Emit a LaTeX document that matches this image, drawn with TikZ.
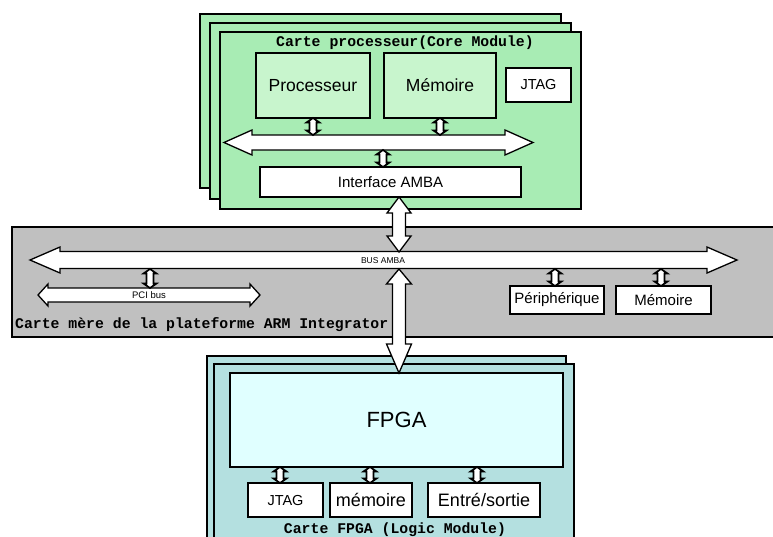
\documentclass[tikz,border=0pt]{standalone}
\usepackage{fontspec}
\setmainfont{Liberation Sans}
\setmonofont{Liberation Mono}
\usetikzlibrary{calc}

\definecolor{cardgreen}{RGB}{168,236,180}
\definecolor{boxgreen}{RGB}{200,245,205}
\definecolor{panelgray}{RGB}{192,192,192}
\definecolor{cardteal}{RGB}{180,224,224}
\definecolor{boxcyan}{RGB}{224,255,255}

% vertical double block arrow: style, top point, bottom point, head half-width,
% shaft half-width, top head length, bottom head length
\newcommand\vblock[7]{%
  \path[#1] let \p1=#2, \p2=#3 in
    (\x1,\y1) -- (\x1+#4pt,\y1-#6pt) -- (\x1+#5pt,\y1-#6pt) -- (\x1+#5pt,\y2+#7pt)
    -- (\x1+#4pt,\y2+#7pt) -- (\x1,\y2) -- (\x1-#4pt,\y2+#7pt) -- (\x1-#5pt,\y2+#7pt)
    -- (\x1-#5pt,\y1-#6pt) -- (\x1-#4pt,\y1-#6pt) -- cycle;}
% horizontal double block arrow: left tip, right tip, head half-width,
% shaft half-width, head length
\newcommand\hblock[5]{%
  \path[blockarrow] let \p1=#1, \p2=#2 in
    (\x1,\y1) -- (\x1+#5pt,\y1+#3pt) -- (\x1+#5pt,\y1+#4pt) -- (\x2-#5pt,\y1+#4pt)
    -- (\x2-#5pt,\y1+#3pt) -- (\x2,\y1) -- (\x2-#5pt,\y1-#3pt) -- (\x2-#5pt,\y1-#4pt)
    -- (\x1+#5pt,\y1-#4pt) -- (\x1+#5pt,\y1-#3pt) -- cycle;}
% short link arrow between a box and a bus
\newcommand\link[2]{\vblock{linkarrow}{#1}{#2}{6.5}{3.5}{4.5}{4.5}}

\begin{document}
\begin{tikzpicture}[x=1pt,y=-1pt,
  frame/.style={draw=black,line width=1.3pt},
  box/.style={frame,fill=white,outer sep=0pt,inner sep=0pt},
  blockarrow/.style={draw=black,fill=white,line width=1.3pt,line join=miter},
  linkarrow/.style={blockarrow,line width=1.7pt},
  cardtitle/.style={font=\ttfamily\bfseries\fontsize{14.8}{16}\selectfont,inner sep=0pt}]
\useasboundingbox (0,0) rectangle (773,536);
\clip (0,0) rectangle (773,536);

% ---- processor card stack ----
\draw[frame,fill=cardgreen] (200,14) rectangle (561,188);
\draw[frame,fill=cardgreen] (210,23) rectangle (571,199);
\draw[frame,fill=cardgreen] (220,32) rectangle (581,209);
\node[cardtitle] (coretitle) at (405,43) {Carte processeur(Core Module)};

\node[box,fill=boxgreen,minimum width=114,minimum height=65,
      font=\fontsize{17.5}{20}\selectfont] (proc) at (313,85.5) {Processeur};
\node[box,fill=boxgreen,minimum width=112,minimum height=65,
      font=\fontsize{17.5}{20}\selectfont] (mem) at (440,85.5) {Mémoire};
\node[box,minimum width=65,minimum height=34,
      font=\fontsize{14.5}{17}\selectfont] (jtag) at (538.5,85) {JTAG};
\node[box,minimum width=261,minimum height=30,
      font=\fontsize{15}{17}\selectfont] (iface) at (390.5,182) {Interface AMBA};

\coordinate (inbusL) at (224,142.5);
\coordinate (inbusR) at (533,142.5);
\coordinate (inbusT) at (0,135);
\coordinate (inbusB) at (0,150);
\hblock{(inbusL)}{(inbusR)}{12.5}{7.5}{28}
\link{(proc.south)}{(proc.south |- inbusT)}
\link{(mem.south)}{(mem.south |- inbusT)}
\coordinate (ifaceport) at (383,0);
\link{(ifaceport |- inbusB)}{(ifaceport |- iface.north)}

% ---- motherboard panel ----
\draw[frame,fill=panelgray] (12,227) -- (780,227) -- (780,337) -- (12,337) -- cycle;
\node[cardtitle,anchor=west] (mbtitle) at (15,325)
  {Carte mère de la plateforme ARM Integrator};

\coordinate (busL) at (30,260);
\coordinate (busR) at (737,260);
\coordinate (busT) at (0,252);
\coordinate (busB) at (0,269);
\hblock{(busL)}{(busR)}{13}{8.5}{30}
\node[font=\fontsize{8.5}{10}\selectfont,inner sep=0pt] (buslabel) at (383,260.5) {BUS AMBA};

\coordinate (pciL) at (38,295);
\coordinate (pciR) at (260,295);
\hblock{(pciL)}{(pciR)}{11}{7}{10}
\node[font=\fontsize{9.5}{11}\selectfont,inner sep=0pt] (pcilabel) at (149,295.5) {PCI bus};
\coordinate (pciport) at (150,288);
\link{(pciport |- busB)}{(pciport)}

\node[box,minimum width=94,minimum height=28,
      font=\fontsize{15}{17}\selectfont] (periph) at (557,300) {Périphérique};
\node[box,minimum width=95,minimum height=28,
      font=\fontsize{15}{17}\selectfont] (mbmem) at (663.5,300) {Mémoire};
\coordinate (periphport) at (555,0);
\coordinate (mbmemport) at (661,0);
\link{(periphport |- busB)}{(periphport |- periph.north)}
\link{(mbmemport |- busB)}{(mbmemport |- mbmem.north)}

% ---- FPGA card stack ----
\draw[frame,fill=cardteal] (207,356) rectangle (566,550);
\draw[frame,fill=cardteal] (214,364) rectangle (574,550);
\node[box,fill=boxcyan,minimum width=333,minimum height=94,
      font=\fontsize{22}{25}\selectfont] (fpga) at (396.5,420) {FPGA};
\node[box,minimum width=75,minimum height=34,
      font=\fontsize{14.5}{17}\selectfont] (fjtag) at (285.5,500) {JTAG};
\node[box,minimum width=82,minimum height=34,
      font=\fontsize{18}{20}\selectfont] (fmem) at (371,500) {mémoire};
\node[box,minimum width=112,minimum height=34,
      font=\fontsize{18}{20}\selectfont] (fio) at (484,500) {Entré/sortie};
\node[cardtitle] (fpgatitle) at (395,529.5) {Carte FPGA (Logic Module)};
\coordinate (fjtagport) at (280,0);
\coordinate (fmemport) at (370,0);
\coordinate (fioport) at (477,0);
\link{(fjtagport |- fpga.south)}{(fjtagport |- fjtag.north)}
\link{(fmemport |- fpga.south)}{(fmemport |- fmem.north)}
\link{(fioport |- fpga.south)}{(fioport |- fio.north)}

% ---- trunk arrows between the cards and the AMBA bus ----
\coordinate (trunk) at (399,0);
\vblock{blockarrow}{(trunk |- iface.south)}{(trunk |- busT)}{12}{6.5}{16}{16}
\vblock{blockarrow}{(trunk |- busB)}{(trunk |- fpga.north)}{12.5}{6.5}{15}{29}
\end{tikzpicture}
\end{document}
